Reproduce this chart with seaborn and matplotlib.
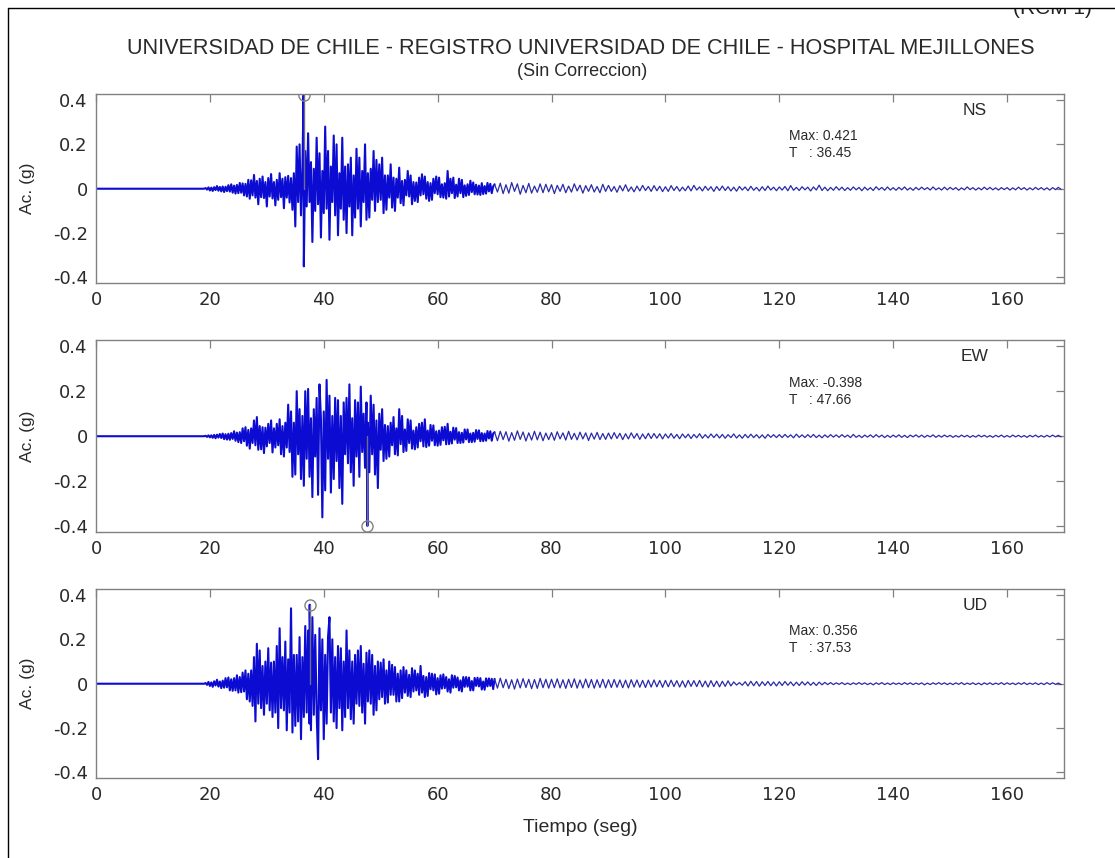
import matplotlib
matplotlib.use("Agg")
import numpy as np
import pandas as pd
import matplotlib.pyplot as plt
import seaborn as sns
from matplotlib.lines import Line2D
from matplotlib.transforms import Bbox, TransformedBbox

# ---------------------------------------------------------------- labels
TITLE = "UNIVERSIDAD DE CHILE - REGISTRO UNIVERSIDAD DE CHILE - HOSPITAL MEJILLONES"
SUBTITLE = "(Sin Correccion)"
CORNER_TAG = "(RCM 1)"
Y_LABEL = "Ac. (g)"
X_LABEL = "Tiempo (seg)"
CHANNELS = ["NS", "EW", "UD"]

# peak acceleration (g) and its time (s) for each channel
PEAK_VALUES = [0.421, -0.398, 0.356]
PEAK_TIMES = [36.45, 47.66, 37.53]

X_TICKS = [0, 20, 40, 60, 80, 100, 120, 140, 160]
Y_TICKS = [-0.4, -0.2, 0.0, 0.2, 0.4]
Y_TICK_LABELS = ["-0.4", "-0.2", "0", "0.2", "0.4"]

# sampling of the digitised records
ONSET = 19.0        # s, first sample of the strong-motion block
STRONG_STEP = 0.25  # s
TAIL_START = 70.0   # s
TAIL_STEP = 0.5     # s

# ---------------------------------------------------------------- NS (milli-g)
NS_STRONG = [
    0, 3, -4, 6,
    -8, 5, -10, 7,
    -6, 12, -9, 8,
    -12, 10, -15, 9,
    -11, 16, -13, 20,
    -18, 14, -22, 17,
    -20, 26, -18, 24,
    -30, 22, -35, 40,
    -45, 38, -30, 62,
    -40, 35, -70, 45,
    -38, 55, -42, 30,
    -80, 48, -35, 66,
    -44, 30, -75, 40,
    -50, 70, -38, 45,
    -88, 52, -40, 58,
    -62, 48, -95, 70,
    -170, 190, -60, 200,
    -120, 90, -350, 170,
    -80, 250, -60, 120,
    -240, 90, -100, 230,
    -70, 160, -220, 80,
    -110, 280, -90, 170,
    -230, 100, -60, 240,
    -120, 200, -210, 70,
    -90, 230, -140, 100,
    -200, 110, -80, 140,
    -210, 60, -130, 180,
    -90, 140, -170, 80,
    -60, 200, -140, 70,
    -130, 90, -50, 170,
    -100, 130, -60, 110,
    -50, 140, -110, 60,
    -95, 60, -40, 110,
    -85, 50, -100, 45,
    -40, 95, -65, 35,
    -75, 40, -30, 80,
    -35, 60, -70, 30,
    -55, 28, -60, 50,
    -30, 65, -25, 55,
    -45, 30, -55, 25,
    -50, 45, -20, 55,
    -25, 50, -38, 20,
    -40, 25, -45, 80,
    -35, 45, -20, 50,
    -42, 18, -35, 45,
    -20, 40, -38, 15,
    -32, 20, -28, 36,
    -15, 28, -25, 18,
    -26, 14, -28, 25,
    -24, 12, -22, 26,
    -12, 22, -20, 10,
]
NS_TAIL = [
    20, -15, 25, -22, 18, -20, 28, -12, 22, -25, 15, -18, 24, -20, 12, -16, 22, -18, 20, -14,
    18, -22, 15, -12, 20, -18, 12, -15, 22, -10, 16, -20, 14, -12, 18, -15, 10, -18, 20, -12,
    15, -12, 10, -16, 14, -10, 18, -12, 8, -14, 12, -10, 15, -8, 10, -12, 14, -9, 11, -13,
    9, -12, 14, -8, 10, -11, 7, -9, 12, -10, 15, -6, 8, -10, 11, -7, 9, -12, 10, -8,
    12, -8, 9, -10, 7, -11, 10, -6, 8, -9, 11, -7, 6, -10, 9, -8, 12, -6, 7, -9,
    8, -6, 10, -9, 14, -7, 6, -8, 9, -5, 7, -10, 8, -6, 16, -8, 7, -9, 6, -7,
    9, -6, 7, -8, 5, -7, 8, -5, 6, -9, 7, -6, 5, -8, 9, -5, 6, -7, 8, -6,
    5, -7, 6, -5, 8, -6, 4, -7, 6, -5, 7, -4, 5, -6, 8, -5, 4, -6, 7, -5,
    6, -4, 5, -7, 4, -5, 8, -4, 5, -6, 4, -5, 7, -4, 6, -5, 4, -6, 5, -4,
    5, -6, 4, -5, 7, -4, 5, -6, 4, -5, 6, -4, 5, -5, 4, -6, 5, -4, 6, -3,
]

# ---------------------------------------------------------------- EW (milli-g)
EW_STRONG = [
    0, 2, -3, 4,
    -5, 4, -7, 6,
    -9, 7, -6, 10,
    -8, 12, -13, 9,
    -15, 11, -16, 14,
    -12, 22, -20, 16,
    -26, 18, -30, 35,
    -22, 40, -42, 28,
    -55, 35, -30, 70,
    -40, 85, -60, 45,
    -58, 40, -75, 38,
    -45, 55, -30, 70,
    -72, 35, -50, 55,
    -40, 75, -80, 45,
    -90, 60, -50, 140,
    -70, 110, -180, 60,
    -170, 200, -80, 120,
    -190, 90, -220, 200,
    -100, 210, -180, 80,
    -270, 120, -90, 170,
    -260, 230, 80, -360,
    110, -240, 250, -100,
    180, -250, 90, -190,
    170, -110, 160, -230,
    90, -300, 150, -80,
    170, -120, 230, -160,
    80, -220, 160, -90,
    150, -180, 220, -70,
    100, -140, 150, 60,
    -160, 180, -80, 140,
    -170, 70, -230, 100,
    -60, 120, -110, 50,
    -100, 45, -90, 60,
    -40, 85, -80, 35,
    -85, 120, -35, 90,
    -70, 30, -65, 75,
    -30, 70, -55, 25,
    -58, 40, -50, 55,
    -22, 60, -45, 75,
    -48, 25, -42, 50,
    -20, 48, -40, 22,
    -42, 25, -38, 40,
    -18, 42, -36, 55,
    -35, 20, -32, 38,
    -15, 36, -30, 18,
    -30, 15, -28, 30,
    -14, 30, -26, 12,
    -26, 15, -24, 27,
    -12, 26, -22, 14,
    -22, 12, -20, 23,
    -10, 22, -20, 12,
]
EW_TAIL = [
    18, -20, 22, -15, 20, -22, 16, -18, 24, -14, 19, -21, 15, -17, 22, -16, 18, -20, 14, -15,
    16, -18, 20, -12, 15, -17, 22, -14, 13, -16, 18, -12, 15, -19, 14, -13, 17, -15, 12, -14,
    14, -12, 16, -10, 13, -15, 11, -12, 15, -9, 12, -14, 10, -11, 13, -10, 12, -9, 11, -12,
    10, -8, 12, -9, 8, -11, 10, -7, 9, -10, 8, -7, 11, -9, 7, -8, 10, -6, 9, -8,
    8, -9, 7, -6, 10, -8, 6, -9, 8, -7, 9, -6, 7, -8, 6, -9, 8, -5, 7, -6,
    7, -6, 8, -5, 6, -7, 9, -5, 6, -6, 7, -5, 8, -6, 5, -7, 6, -5, 7, -4,
    6, -5, 7, -4, 5, -6, 8, -5, 4, -6, 5, -4, 6, -5, 7, -4, 5, -6, 4, -5,
    5, -4, 6, -5, 4, -6, 5, -3, 6, -4, 5, -5, 4, -3, 6, -5, 4, -4, 5, -3,
    4, -5, 3, -4, 5, -3, 4, -5, 3, -4, 5, -3, 4, -4, 3, -5, 4, -3, 5, -4,
    3, -4, 5, -3, 4, -4, 3, -5, 4, -3, 5, -4, 3, -4, 4, -3, 5, -3, 4, -3,
]

# ---------------------------------------------------------------- UD (milli-g)
UD_STRONG = [
    0, 3, -5, 8,
    -10, 6, -14, 11,
    -8, 18, -13, 10,
    -20, 14, -18, 25,
    -16, 28, -30, 20,
    -32, 25, -30, 38,
    -40, 30, -38, 50,
    -35, 60, -70, 45,
    -80, 60, -100, 120,
    -170, 180, -90, 150,
    -110, 80, -140, 100,
    -90, 160, -120, 95,
    -150, 100, -130, 170,
    -200, 250, -110, 120,
    -120, 190, -210, 110,
    -130, 340, -220, 130,
    -190, 130, -170, 210,
    -250, 120, -150, 260,
    -130, 240, -180, -210,
    300, -140, 220, -130,
    -340, 250, -120, 200,
    -250, 130, -180, 210,
    300, -130, 200, -170,
    120, -200, 170, -110,
    160, -210, 100, -150,
    240, -110, 150, -160,
    100, -180, 130, -90,
    150, -100, 170, -130,
    90, -180, 140, -80,
    150, -90, 130, -140,
    80, -120, 100, -70,
    95, -60, 110, -90,
    60, -85, 100, -50,
    85, -50, 75, -80,
    45, -80, 60, -65,
    75, -40, 60, -55,
    40, -60, 70, -35,
    60, -30, 45, -50,
    80, -40, 35, -60,
    30, -55, 48, -25,
    45, -30, 42, -48,
    25, -45, 38, -22,
    42, -20, 30, -35,
    20, -40, 38, -18,
    35, -16, 28, -30,
    15, -35, 30, -14,
    30, -13, 28, -30,
    12, -30, 26, -10,
    27, -12, 25, -26,
    10, -27, 24, -12,
    24, -10, 22, -24,
]
UD_TAIL = [
    22, -20, 25, -18, 20, -22, 18, -24, 21, -19, 23, -17, 20, -22, 19, -21, 24, -18, 20, -20,
    20, -18, 22, -19, 18, -21, 20, -17, 22, -20, 17, -19, 21, -18, 19, -20, 18, -17, 20, -19,
    18, -17, 19, -16, 17, -18, 16, -19, 18, -15, 17, -16, 15, -17, 16, -15, 17, -14, 15, -16,
    15, -14, 16, -13, 14, -15, 13, -16, 15, -12, 14, -13, 15, -14, 12, -15, 14, -13, 12, -14,
    11, -12, 13, -10, 8, -6, 5, -7, 9, -10, 11, -9, 10, -11, 9, -8, 10, -9, 8, -10,
    9, -8, 10, -7, 8, -9, 7, -8, 9, -6, 8, -7, 6, -8, 7, -5, 6, -4, 5, -4,
    4, -3, 5, -4, 3, -4, 4, -3, 5, -3, 4, -4, 3, -5, 4, -3, 5, -4, 3, -4,
    4, -3, 3, -4, 5, -3, 4, -4, 3, -3, 4, -5, 3, -4, 4, -3, 5, -3, 4, -4,
    3, -4, 4, -3, 5, -4, 3, -3, 4, -4, 3, -5, 4, -3, 4, -4, 3, -3, 5, -4,
    4, -3, 3, -4, 4, -3, 5, -4, 3, -3, 4, -4, 3, -4, 5, -3, 4, -3, 3, -4,
]

RECORDS = {
    "NS": (NS_STRONG, NS_TAIL),
    "EW": (EW_STRONG, EW_TAIL),
    "UD": (UD_STRONG, UD_TAIL),
}


def build_record(strong, tail, peak_t, peak_v):
    """Assemble the time history (s, g) of one channel."""
    t_strong = ONSET + STRONG_STEP * np.arange(len(strong))
    t_tail = TAIL_START + TAIL_STEP * np.arange(len(tail))
    t = np.concatenate([[0.0], t_strong, t_tail, [peak_t]])
    a = np.concatenate([[0.0], np.asarray(strong) / 1000.0,
                        np.asarray(tail) / 1000.0, [peak_v]])
    return pd.DataFrame({"t": t, "acc": a}).sort_values("t")


# ---------------------------------------------------------------- style
sns.set_style("white")
plt.rcParams["font.family"] = ["Liberation Sans", "DejaVu Sans"]
plt.rcParams["axes.unicode_minus"] = False

W, H = 1115, 858
fig = plt.figure(figsize=(W / 100, H / 100), dpi=100)
fig.patch.set_facecolor("white")

TRACE = "#0b0bd2"
TRACE_TAIL = "#2a2aa8"
FRAME = "#808080"
TEXT = "#2a2a2a"

# panel boxes in pixels: (top, bottom)
panels_px = [(94, 283), (340, 532), (589, 778)]
left_px, right_px = 96, 1064

for i, (ch, (top, bot)) in enumerate(zip(CHANNELS, panels_px)):
    ax = fig.add_axes([left_px / W, 1 - bot / H,
                       (right_px - left_px) / W, (bot - top) / H])
    strong, tail = RECORDS[ch]
    df = build_record(strong, tail, PEAK_TIMES[i], PEAK_VALUES[i])
    # strong-motion part drawn heavier, the coda as a fine line
    sns.lineplot(data=df[df["t"] <= TAIL_START], x="t", y="acc", ax=ax,
                 estimator=None, color=TRACE, linewidth=1.5)
    sns.lineplot(data=df[df["t"] >= TAIL_START], x="t", y="acc", ax=ax,
                 estimator=None, color=TRACE_TAIL, linewidth=0.9)

    # stem + circle at the peak value
    ax.plot([PEAK_TIMES[i], PEAK_TIMES[i]], [0, PEAK_VALUES[i]],
            color="#6e6e8a", linewidth=1.0, zorder=3)
    ax.plot([PEAK_TIMES[i]], [PEAK_VALUES[i]], marker="o", markersize=8,
            markerfacecolor="none", markeredgecolor="#808080",
            markeredgewidth=1.0, zorder=4)

    ax.set_xlim(0, 170)
    ax.set_ylim(-0.425, 0.427)
    ax.set_xticks(X_TICKS)
    ax.set_xticklabels([str(v) for v in X_TICKS])
    ax.set_yticks(Y_TICKS)
    ax.set_yticklabels(Y_TICK_LABELS)
    ax.tick_params(direction="in", length=6, width=0.9, color=FRAME,
                   top=True, right=True, labelsize=13, labelcolor=TEXT,
                   pad=6)
    for lbl in ax.get_xticklabels() + ax.get_yticklabels():
        lbl.set_family("DejaVu Sans")
    for sp in ax.spines.values():
        sp.set_color(FRAME)
        sp.set_linewidth(1.0)

    ax.set_ylabel(Y_LABEL, fontsize=12.5, color=TEXT)
    ax.yaxis.set_label_coords(-0.063, 0.5)
    if i == len(CHANNELS) - 1:
        ax.set_xlabel(X_LABEL, fontsize=14, color=TEXT)
        ax.xaxis.set_label_coords(0.5, -0.215)
    else:
        ax.set_xlabel("")

    ax.text(0.908, 0.915, ch, transform=ax.transAxes, ha="center",
            va="center", fontsize=12.5, color=TEXT)
    ax.text(0.716, 0.733,
            f"Max: {PEAK_VALUES[i]:.3f}\nT   : {PEAK_TIMES[i]:.2f}",
            transform=ax.transAxes, ha="left", va="center",
            fontsize=10, color=TEXT, linespacing=1.25)

# ---------------------------------------------------------------- titles
fig.text(581 / W, 1 - 48 / H, TITLE, ha="center", va="center",
         fontsize=15.6, color=TEXT)
fig.text(582 / W, 1 - 72 / H, SUBTITLE, ha="center", va="center",
         fontsize=13, color=TEXT)

# page frame
fig.add_artist(Line2D([8 / W, 1], [1 - 8 / H, 1 - 8 / H],
                      transform=fig.transFigure, color="black", linewidth=1))
fig.add_artist(Line2D([8 / W, 8 / W], [0, 1 - 8 / H],
                      transform=fig.transFigure, color="black", linewidth=1))

tag = fig.text(1052 / W, 1 - 8 / H, CORNER_TAG, ha="center", va="center",
               fontsize=15, color="#222222")
tag.set_clip_box(TransformedBbox(Bbox([[0, 0], [1, 1 - 9 / H]]),
                                 fig.transFigure))
tag.set_clip_on(True)

fig.savefig("out.png", dpi=100, facecolor="white")
